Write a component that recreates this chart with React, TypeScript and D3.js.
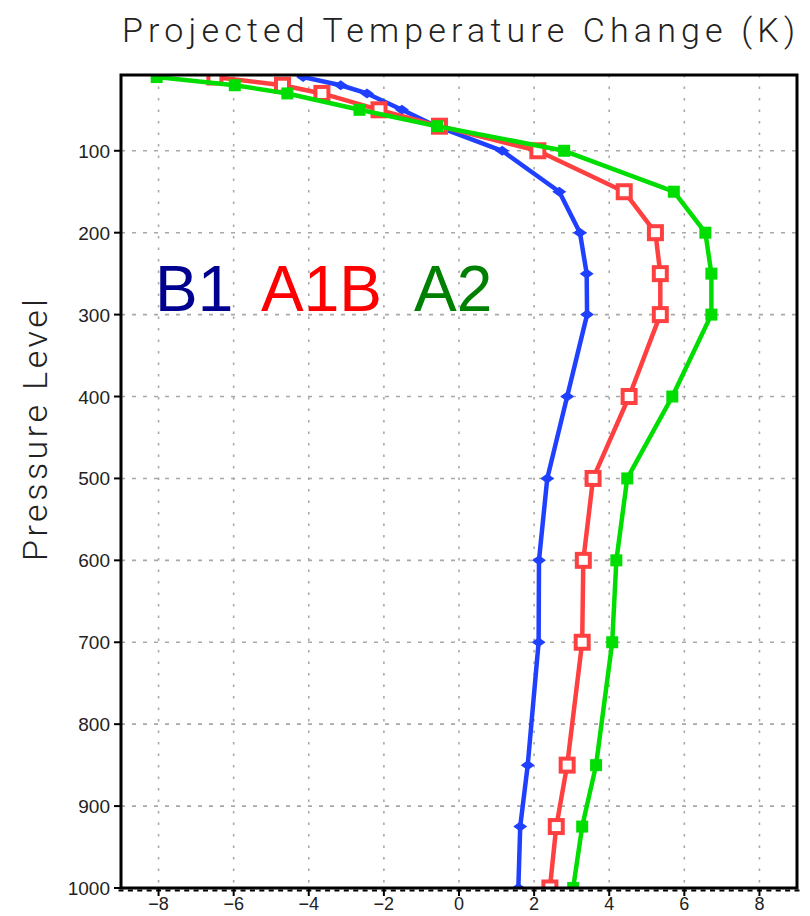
import * as d3 from 'd3'
import { useEffect, useRef } from 'react'

// pressure levels (hPa) and temperature change (K) per scenario
const levels = [10, 20, 30, 50, 70, 100, 150, 200, 250, 300, 400, 500, 600, 700, 850, 925, 1000]
const b1 = [-4.15, -3.15, -2.45, -1.52, -0.6, 1.15, 2.67, 3.22, 3.4, 3.41, 2.88, 2.35, 2.13, 2.12, 1.83, 1.63, 1.58]
const a1b = [-6.5, -4.7, -3.65, -2.13, -0.52, 2.1, 4.4, 5.23, 5.36, 5.36, 4.53, 3.57, 3.31, 3.28, 2.88, 2.59, 2.42]
const a2 = [-8.05, -5.97, -4.57, -2.65, -0.58, 2.8, 5.72, 6.56, 6.72, 6.72, 5.68, 4.48, 4.19, 4.08, 3.65, 3.28, 3.04]

const xTicks = [-8, -6, -4, -2, 0, 2, 4, 6, 8]
const yTicks = [100, 200, 300, 400, 500, 600, 700, 800, 900, 1000]
const yGrid = [100, 200, 300, 400, 500, 600, 700, 800, 900]

const W = 810
const H = 916

const App = () => {
  const svgRef = useRef<SVGSVGElement>(null)

  useEffect(() => {
    const svg = d3.select(svgRef.current)
    svg.selectAll('*').remove()

    const left = 121, right = 797, top = 75, bottom = 888
    const x = d3.scaleLinear().domain([-9, 9]).range([left, right])
    const y = d3.scaleLinear().domain([7.5, 1000]).range([top, bottom])

    // grid
    svg.selectAll('.vgrid').data(xTicks).join('line')
      .attr('x1', d => x(d)).attr('x2', d => x(d))
      .attr('y1', top).attr('y2', bottom)
      .attr('stroke', '#a8a8a8').attr('stroke-width', 1.6)
      .attr('stroke-dasharray', '2.5,9')
    svg.selectAll('.hgrid').data(yGrid).join('line')
      .attr('x1', left).attr('x2', right)
      .attr('y1', d => y(d)).attr('y2', d => y(d))
      .attr('stroke', '#a8a8a8').attr('stroke-width', 1.6)
      .attr('stroke-dasharray', '4,7')

    // series
    const series = [
      { name: 'B1', values: b1, color: '#2040ff', mark: 'diamond' },
      { name: 'A1B', values: a1b, color: '#ff4040', mark: 'open' },
      { name: 'A2', values: a2, color: '#00dd00', mark: 'square' },
    ]
    const line = d3.line<number>().x(d => x(d)).y((_, i) => y(levels[i]))

    const clip = svg.append('clipPath').attr('id', 'plotclip')
    clip.append('rect').attr('x', left).attr('y', top).attr('width', right - left).attr('height', bottom - top)
    const plot = svg.append('g').attr('clip-path', 'url(#plotclip)')

    series.forEach(s => {
      plot.append('path').attr('d', line(s.values))
        .attr('fill', 'none').attr('stroke', s.color).attr('stroke-width', 4.5)
        .attr('stroke-linejoin', 'round')
      const g = plot.append('g')
      if (s.mark === 'diamond') {
        g.selectAll('path').data(s.values).join('path')
          .attr('d', (d, i) => {
            const cx = x(d), cy = y(levels[i])
            return `M${cx - 7},${cy}L${cx},${cy - 5}L${cx + 7},${cy}L${cx},${cy + 5}Z`
          })
          .attr('fill', s.color)
      } else if (s.mark === 'open') {
        g.selectAll('rect').data(s.values).join('rect')
          .attr('x', d => x(d) - 6.5).attr('y', (_, i) => y(levels[i]) - 6.5)
          .attr('width', 13).attr('height', 13)
          .attr('fill', '#fff').attr('stroke', s.color).attr('stroke-width', 4)
      } else {
        g.selectAll('rect').data(s.values).join('rect')
          .attr('x', d => x(d) - 6).attr('y', (_, i) => y(levels[i]) - 6)
          .attr('width', 12).attr('height', 12)
          .attr('fill', s.color)
      }
    })

    // frame
    svg.append('rect').attr('x', left).attr('y', top)
      .attr('width', right - left).attr('height', bottom - top)
      .attr('fill', 'none').attr('stroke', '#000').attr('stroke-width', 3)

    // x minor ticks
    svg.selectAll('.minor').data(d3.range(-9, 9.01, 0.25)).join('line')
      .attr('x1', d => x(d) - 2.5).attr('x2', d => x(d) + 2.5)
      .attr('y1', bottom + 2.5).attr('y2', bottom + 2.5)
      .attr('stroke', '#000').attr('stroke-width', 2)

    // x ticks + labels
    svg.selectAll('.xt').data(xTicks).join('line')
      .attr('x1', d => x(d)).attr('x2', d => x(d))
      .attr('y1', bottom).attr('y2', bottom + 8)
      .attr('stroke', '#000').attr('stroke-width', 2)
    svg.selectAll('.xl').data(xTicks).join('text')
      .attr('x', d => x(d)).attr('y', bottom + 22)
      .attr('text-anchor', 'middle')
      .attr('font-family', 'Liberation Sans, Arial, sans-serif')
      .attr('font-size', 18).attr('fill', '#222')
      .text(d => (d < 0 ? '\u2212' + Math.abs(d) : String(d)))

    // y ticks + labels
    svg.selectAll('.yt').data(yTicks).join('line')
      .attr('x1', left - 7).attr('x2', left)
      .attr('y1', d => y(d)).attr('y2', d => y(d))
      .attr('stroke', '#000').attr('stroke-width', 2)
    svg.selectAll('.yl').data(yTicks).join('text')
      .attr('x', left - 11).attr('y', d => y(d) + 7)
      .attr('text-anchor', 'end')
      .attr('font-family', 'Liberation Sans, Arial, sans-serif')
      .attr('font-size', 19).attr('fill', '#222')
      .text(d => d)

    // title and axis label
    svg.append('text').attr('x', 122).attr('y', 42)
      .attr('textLength', 673).attr('lengthAdjust', 'spacing')
      .attr('font-family', 'Roboto, Liberation Sans, sans-serif').attr('font-weight', 300)
      .attr('font-size', 34).attr('fill', '#222')
      .text('Projected Temperature Change (K)')
    svg.append('text')
      .attr('transform', 'translate(47,430) rotate(-90)')
      .attr('text-anchor', 'middle')
      .attr('textLength', 262).attr('lengthAdjust', 'spacing')
      .attr('font-family', 'Roboto, Liberation Sans, sans-serif').attr('font-weight', 300)
      .attr('font-size', 34).attr('fill', '#222')
      .text('Pressure Level')

    // scenario labels
    const legend = [
      { text: 'B1', color: '#00008f', x: 155 },
      { text: 'A1B', color: '#ff0000', x: 261 },
      { text: 'A2', color: '#008000', x: 414 },
    ]
    svg.selectAll('.lg').data(legend).join('text')
      .attr('x', d => d.x).attr('y', 311)
      .attr('font-family', 'Liberation Sans, Arial, sans-serif')
      .attr('font-size', 64).attr('fill', d => d.color)
      .text(d => d.text)
  }, [])

  return (
    <div style={{ position: 'absolute', left: 0, top: 0 }}>
      <svg ref={svgRef} width={W} height={H} style={{ display: 'block', background: '#fff' }}></svg>
    </div>
  )
}

export default App
